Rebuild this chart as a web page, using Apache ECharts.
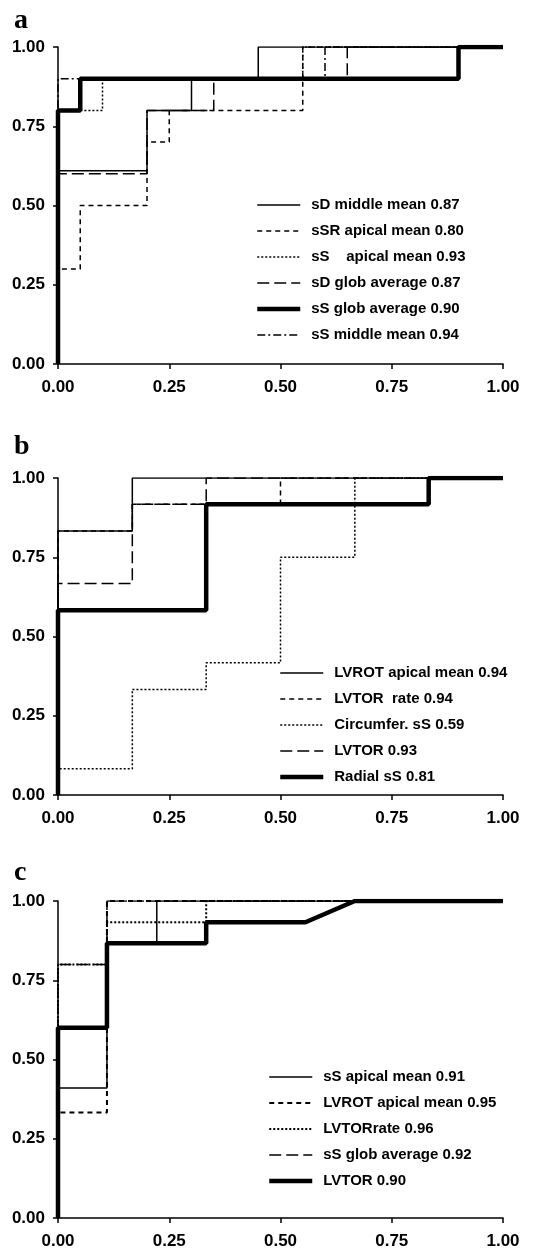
<!DOCTYPE html>
<html>
<head>
<meta charset="utf-8">
<script src="https://cdn.jsdelivr.net/npm/echarts@6/dist/echarts.min.js"></script>
<style>
  html, body { margin: 0; padding: 0; background: #fff; }
  #chart { width: 537px; height: 1256px; }
</style>
</head>
<body>
<div id="chart"></div>
<script>
// ticks shared by every panel
const tick_values = [0, 0.25, 0.5, 0.75, 1];

// PANEL a
const a_names = ["sD middle mean 0.87", "sSR apical mean 0.80", "sS    apical mean 0.93",
                 "sD glob average 0.87", "sS glob average 0.90", "sS middle mean 0.94"];
const a_sDmid_x  = [0, 0,    0.2,  0.2, 0.3, 0.3, 0.45, 0.45, 1];
const a_sDmid_y  = [0, 0.61, 0.61, 0.8, 0.8, 0.9, 0.9,  1,    1];
const a_sSR_x    = [0, 0,   0.05, 0.05, 0.2, 0.2, 0.25, 0.25, 0.55, 0.55, 1];
const a_sSR_y    = [0, 0.3, 0.3,  0.5,  0.5, 0.7, 0.7,  0.8,  0.8,  1,    1];
const a_sSap_x   = [0, 0,   0.1, 0.1, 0.55, 0.55, 1];
const a_sSap_y   = [0, 0.8, 0.8, 0.9, 0.9,  1,    1];
const a_sDglob_x = [0, 0,   0.2, 0.2, 0.35, 0.35, 0.65, 0.65, 1];
const a_sDglob_y = [0, 0.6, 0.6, 0.8, 0.8,  0.9,  0.9,  1,    1];
const a_sSglob_x = [0, 0,   0.05, 0.05, 0.9, 0.9, 1];
const a_sSglob_y = [0, 0.8, 0.8,  0.9,  0.9, 1,   1];
const a_sSmid_x  = [0, 0,   0.6, 0.6, 1];
const a_sSmid_y  = [0, 0.9, 0.9, 1,   1];

// PANEL b
const b_names = ["LVROT apical mean 0.94", "LVTOR  rate 0.94", "Circumfer. sS 0.59", "LVTOR 0.93", "Radial sS 0.81"];
const b_lvrot_x  = [0, 0,     0.167, 0.167, 1];
const b_lvrot_y  = [0, 0.833, 0.833, 1,     1];
const b_rate_x   = [0, 0,     0.167, 0.167, 0.5,   0.5, 1];
const b_rate_y   = [0, 0.833, 0.833, 0.917, 0.917, 1,   1];
const b_circ_x   = [0, 0,     0.167, 0.167, 0.333, 0.333, 0.5,   0.5,  0.667, 0.667, 1];
const b_circ_y   = [0, 0.083, 0.083, 0.333, 0.333, 0.417, 0.417, 0.75, 0.75,  1,     1];
const b_lvtor_x  = [0, 0,     0.167, 0.167, 0.333, 0.333, 1];
const b_lvtor_y  = [0, 0.667, 0.667, 0.917, 0.917, 1,     1];
const b_radial_x = [0, 0,     0.333, 0.333, 0.833, 0.833, 1];
const b_radial_y = [0, 0.583, 0.583, 0.917, 0.917, 1,     1];

// PANEL c
const c_names = ["sS apical mean 0.91", "LVROT apical mean 0.95", "LVTORrate 0.96", "sS glob average 0.92", "LVTOR 0.90"];
const c_sSap_x   = [0, 0,    0.11, 0.11,  0.222, 0.222, 1];
const c_sSap_y   = [0, 0.41, 0.41, 0.867, 0.867, 1,     1];
const c_lvrot_x  = [0, 0,     0.11,  0.11, 1];
const c_lvrot_y  = [0, 0.333, 0.333, 1,    1];
const c_rate_x   = [0, 0,   0.11, 0.11,  0.333, 0.333, 1];
const c_rate_y   = [0, 0.8, 0.8,  0.933, 0.933, 1,     1];
const c_sSglob_x = [0, 0,   0.11, 0.11, 1];
const c_sSglob_y = [0, 0.8, 0.8,  1,    1];
const c_lvtor_x  = [0, 0,   0.11, 0.11,  0.333, 0.333, 0.556, 0.667, 1];
const c_lvtor_y  = [0, 0.6, 0.6,  0.867, 0.867, 0.933, 0.933, 1,     1];


// line looks
const SOLID = {width: 1.5, type: 'solid'};
const DASHED = {width: 1.5, type: [5, 4]};
const DOTTED = {width: 1.5, type: [2, 2]};
const LONGDASH = {width: 1.5, type: [12, 5]};
const DASHDOT = {width: 1.5, type: [8, 3, 2, 3]};
const THICK = {width: 4.5, type: 'solid'};

const FONT = "'Liberation Sans', Arial, sans-serif";
const grids_top = [47, 478, 901];


function pairs(xs, ys){
  return xs.map((x, i) => [x, ys[i]]);
}

function curve(name, panel, xs, ys, style){
  return {
    type: 'line', name, xAxisIndex: panel, yAxisIndex: panel,
    data: pairs(xs, ys), symbol: 'none', silent: true, animation: false,
    lineStyle: Object.assign({color: '#000'}, style),
    itemStyle: {color: '#000'}
  };
}

function axisFor(panel, margin){
  return {
    type: 'value', gridIndex: panel, min: tick_values[0], max: tick_values[tick_values.length - 1], interval: 0.25,
    axisLine: {show: true, onZero: false, lineStyle: {color: '#000', width: 1.5}},
    axisTick: {show: true, length: 5, lineStyle: {color: '#000', width: 1.5}},
    axisLabel: {color: '#000', fontWeight: 'bold', fontSize: 17, fontFamily: FONT, margin, formatter: (v) => v.toFixed(2)},
    splitLine: {show: false}
  };
}

// legend keys are just the line, no marker in the middle
function legendFor(names, styles, left, top){
  return {
    orient: 'vertical', left, top, itemWidth: 43, itemHeight: 16, itemGap: 10,
    textStyle: {color: '#000', fontWeight: 'bold', fontSize: 15, fontFamily: FONT, lineHeight: 16, padding: [0, 0, 0, 6]},
    data: names.map((name, i) => ({
      name,
      itemStyle: {opacity: 0, color: 'transparent', borderWidth: 0},
      lineStyle: Object.assign({color: '#000', opacity: 1}, styles[i])
    })),
    selectedMode: false
  };
}

const a_styles = [SOLID, DASHED, DOTTED, LONGDASH, THICK, DASHDOT];
const b_styles = [SOLID, DASHED, DOTTED, LONGDASH, THICK];
const c_styles = [SOLID, Object.assign({}, DASHED, {width: 2}), Object.assign({}, DOTTED, {width: 2}), LONGDASH, THICK];

const chart = echarts.init(document.getElementById('chart'), null, {renderer: 'canvas'});

chart.setOption({
  backgroundColor: '#fff',
  animation: false,
  title: ['a', 'b', 'c'].map((t, i) => ({
    text: t, left: 9, top: [2, 428, 854][i],
    textStyle: {fontFamily: "'Liberation Serif', 'DejaVu Serif', serif", fontWeight: 'bold', fontSize: 28, color: '#000'}
  })),
  grid: grids_top.map((top) => ({left: 58, width: 445, top, height: 317})),
  xAxis: [0, 1, 2].map((p) => axisFor(p, 15)),
  yAxis: [0, 1, 2].map((p) => axisFor(p, 13)),
  legend: [
    legendFor(a_names, a_styles, 250, 192),
    legendFor(b_names, b_styles, 273, 660),
    legendFor(c_names, c_styles, 262, 1064)
  ],
  series: [
    curve(a_names[0], 0, a_sDmid_x, a_sDmid_y, a_styles[0]),
    curve(a_names[1], 0, a_sSR_x, a_sSR_y, a_styles[1]),
    curve(a_names[2], 0, a_sSap_x, a_sSap_y, a_styles[2]),
    curve(a_names[3], 0, a_sDglob_x, a_sDglob_y, a_styles[3]),
    curve(a_names[5], 0, a_sSmid_x, a_sSmid_y, a_styles[5]),
    curve(a_names[4], 0, a_sSglob_x, a_sSglob_y, a_styles[4]),

    curve(b_names[0], 1, b_lvrot_x, b_lvrot_y, b_styles[0]),
    curve(b_names[1], 1, b_rate_x, b_rate_y, b_styles[1]),
    curve(b_names[2], 1, b_circ_x, b_circ_y, b_styles[2]),
    curve(b_names[3], 1, b_lvtor_x, b_lvtor_y, b_styles[3]),
    curve(b_names[4], 1, b_radial_x, b_radial_y, b_styles[4]),

    curve(c_names[0], 2, c_sSap_x, c_sSap_y, c_styles[0]),
    curve(c_names[1], 2, c_lvrot_x, c_lvrot_y, c_styles[1]),
    curve(c_names[2], 2, c_rate_x, c_rate_y, c_styles[2]),
    curve(c_names[3], 2, c_sSglob_x, c_sSglob_y, c_styles[3]),
    curve(c_names[4], 2, c_lvtor_x, c_lvtor_y, c_styles[4])
  ]
});
</script>
</body>
</html>
